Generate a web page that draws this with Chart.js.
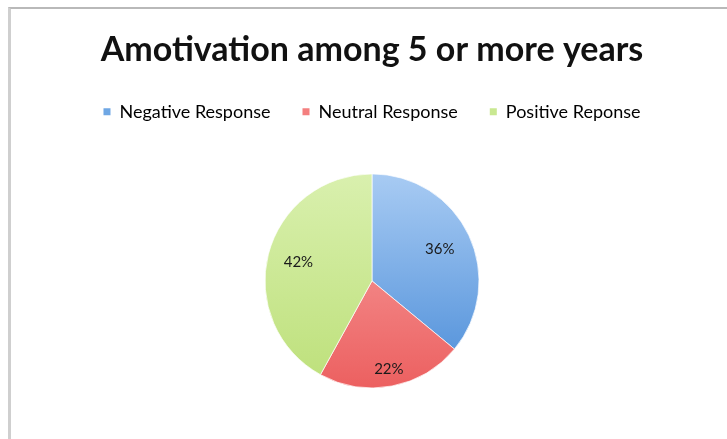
<!DOCTYPE html>
<html>
<head>
<meta charset="utf-8">
<script src="https://cdn.jsdelivr.net/npm/chart.js@4"></script>
<style>
  html, body { margin: 0; padding: 0; background: #fff; }
  body { width: 727px; height: 439px; position: relative; overflow: hidden; }
  #frame {
    position: absolute; left: 8px; top: 7px; width: 719px; height: 432px;
    border-top: 2px solid #b9b9b9; border-left: 3px solid #cfcfcf; box-sizing: border-box;
  }
  #chart { display: block; }
</style>
</head>
<body>
<div id="frame"><canvas id="chart" width="716" height="430"></canvas></div>
<script>
const labels = ['Negative Response', 'Neutral Response', 'Positive Reponse'];
const values = [36, 22, 42];
const percentLabels = ['36%', '22%', '42%'];

const topColors = ['#a8cbf3', '#f8a6a6', '#d9f0ae'];
const bottomColors = ['#4a8cd8', '#ec6060', '#bde07a'];
const flatColors = ['#6fa7e4', '#f47f7f', '#c9e891'];
const pieRadius = 107;
// how far out each label sits along the slice middle (fraction of radius)
const labelRadius = [0.7, 0.84, 0.71];

const gradientFill = (ctx) => {
    const chart = ctx.chart;
    const area = chart.chartArea;
    if (!area) return flatColors[ctx.dataIndex];
    const cy = (area.top + area.bottom) / 2;
    const g = chart.ctx.createLinearGradient(0, cy - pieRadius, 0, cy + pieRadius);
    g.addColorStop(0, topColors[ctx.dataIndex]);
    g.addColorStop(1, bottomColors[ctx.dataIndex]);
    return g;
};

const sliceLabels = {
    id: 'sliceLabels',
    afterDatasetsDraw(chart) {
        const { ctx } = chart;
        const meta = chart.getDatasetMeta(0);
        ctx.save();
        ctx.font = '15px Lato, "Open Sans", sans-serif';
        ctx.fillStyle = '#1a1a1a';
        ctx.textAlign = 'center';
        ctx.textBaseline = 'middle';
        meta.data.forEach((arc, i) => {
            const p = arc.getProps(['x', 'y', 'startAngle', 'endAngle', 'outerRadius']);
            const mid = (p.startAngle + p.endAngle) / 2;
            const r = p.outerRadius * labelRadius[i];
            ctx.fillText(percentLabels[i], p.x + Math.cos(mid) * r, p.y + Math.sin(mid) * r);
        });
        ctx.restore();
    }
};

new Chart(document.getElementById('chart'), {
    type: 'pie',
    data: {
        labels,
        datasets: [{
            data: values,
            backgroundColor: gradientFill,
            borderColor: 'rgba(255,255,255,0.7)',
            borderWidth: 1,
            radius: pieRadius
        }]
    },
    options: {
        responsive: false,
        animation: false,
        layout: { padding: { left: 6, right: 0, top: 0, bottom: 8 } },
        plugins: {
            title: {
                display: true,
                text: 'Amotivation among 5 or more years',
                color: '#111',
                font: { family: 'Lato, "Open Sans", sans-serif', size: 34, weight: 'bold' },
                padding: { top: 21, bottom: 0 }
            },
            legend: {
                position: 'top',
                labels: {
                    color: '#222',
                    font: { family: 'Lato, "Open Sans", sans-serif', size: 18 },
                    boxWidth: 7,
                    boxHeight: 7,
                    padding: 32,
                    generateLabels(chart) {
                        return labels.map((t, i) => ({
                            text: t,
                            fillStyle: flatColors[i],
                            strokeStyle: flatColors[i],
                            lineWidth: 0,
                            index: i
                        }));
                    }
                }
            },
            tooltip: { enabled: false }
        }
    },
    plugins: [sliceLabels]
});
</script>
</body>
</html>
